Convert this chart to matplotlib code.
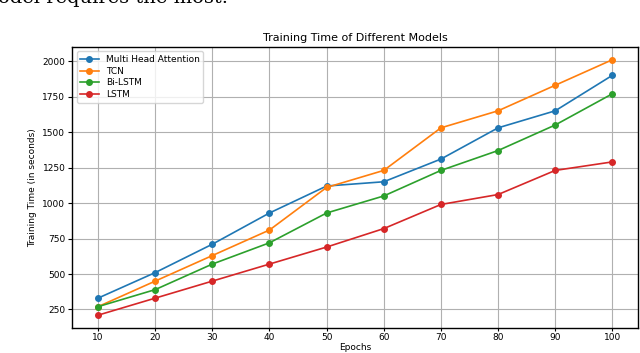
import matplotlib.pyplot as plt

plt.rc('axes', titlesize=8)
plt.rc('axes', labelsize=6.5)
plt.rc('xtick', labelsize=6.5)
plt.rc('ytick', labelsize=6.5)
plt.rc('legend', fontsize=6.5)

epochs = [10, 20, 30, 40, 50, 60, 70, 80, 90, 100]
mha = [330, 510, 710, 930, 1120, 1150, 1310, 1530, 1650, 1900]
tcn = [270, 450, 630, 810, 1110, 1230, 1530, 1650, 1830, 2010]
bilstm = [270, 390, 570, 720, 930, 1050, 1230, 1370, 1550, 1770]
lstm = [210, 330, 450, 570, 690, 820, 990, 1060, 1230, 1290]

fig = plt.figure(figsize=(6.4, 3.53), dpi=100)
ax = fig.add_axes([0.113, 0.071, 0.884, 0.796])

# snippet of the surrounding paper text, mostly cut off at the top (as in the source)
fig.text(-0.003, 1 - 3 / 353, "odel requires the most.", family='DejaVu Serif',
         fontsize=14, va='baseline', ha='left')

ax.plot(epochs, mha, marker='o', markersize=4, linewidth=1.2, color='#1f77b4', label='Multi Head Attention')
ax.plot(epochs, tcn, marker='o', markersize=4, linewidth=1.2, color='#ff7f0e', label='TCN')
ax.plot(epochs, bilstm, marker='o', markersize=4, linewidth=1.2, color='#2ca02c', label='Bi-LSTM')
ax.plot(epochs, lstm, marker='o', markersize=4, linewidth=1.2, color='#d62728', label='LSTM')

ax.set_title('Training Time of Different Models', pad=4)
ax.set_xlabel('Epochs', labelpad=1)
ax.set_ylabel('Training Time (in seconds)')
ax.set_xticks(epochs)
ax.tick_params(axis='x', length=2, pad=1.5)
ax.tick_params(axis='y', length=3, pad=2)

ax.grid(True, color='#b0b0b0', linewidth=0.8)
for s in ax.spines.values():
    s.set_linewidth(1.0)

ax.legend(loc='upper left', handlelength=2, borderpad=0.4, labelspacing=0.3)

plt.savefig('out.png', dpi=100)
